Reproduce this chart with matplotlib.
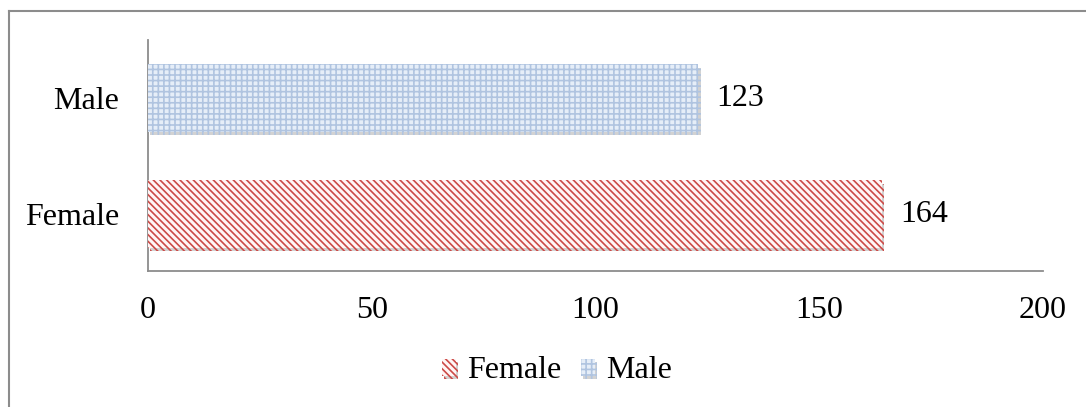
import matplotlib.pyplot as plt
import matplotlib.patheffects as pe
from matplotlib.lines import Line2D

categories = ['Female', 'Male']
counts = [164, 123]
xticks = [0, 50, 100, 150, 200]

plt.rcParams['font.family'] = ['Liberation Serif', 'DejaVu Serif']
plt.rcParams['hatch.linewidth'] = 1.2

W, H = 1086, 407
fs = 23
fig = plt.figure(figsize=(W / 100, H / 100), dpi=100)
ax = fig.add_axes([148 / W, 1 - 271 / H, (1043 - 148) / W, (271 - 40) / H])

faces = ['#fff6f6', '#e6eef8']
edges = ['#cc4a47', '#b0c4e0']
hatches = ['\\' * 5, '+++']

shadow = [pe.SimplePatchShadow(offset=(1.5, -2.5), shadow_rgbFace='#909090', alpha=0.4),
          pe.Normal()]
for i, (cat, val) in enumerate(zip(categories, counts)):
    ax.barh(i, val, height=0.58, color=faces[i], edgecolor=edges[i],
            hatch=hatches[i], linewidth=0, label=cat, zorder=3,
            path_effects=shadow)
    ax.text(val + 4, i, str(val), va='center', ha='left', fontsize=fs)

ax.set_xlim(0, 200)
ax.set_ylim(-0.49, 1.5)
ax.set_xticks(xticks)
ax.set_yticks(range(len(categories)))
ax.set_yticklabels(categories)
ax.tick_params(axis='both', length=0, labelsize=fs)
ax.tick_params(axis='x', pad=18)
ax.tick_params(axis='y', pad=21)
for s in ['top', 'right']:
    ax.spines[s].set_visible(False)
for s in ['left', 'bottom']:
    ax.spines[s].set_color('#8c8c8c')
    ax.spines[s].set_linewidth(1.3)

handles, labels = ax.get_legend_handles_labels()
fig.legend(handles, labels, loc='center', bbox_to_anchor=(557 / W, 1 - 371 / H), ncol=2,
           frameon=False, fontsize=fs, handlelength=0.45, handleheight=0.45,
           handletextpad=0.35, columnspacing=0.6)

# outer chart border (top and left edges visible in the reference)
x0 = 8.5 / W
y1 = 1 - 10.5 / H
fig.add_artist(Line2D([x0, 1], [y1, y1], transform=fig.transFigure, color='#8c8c8c', lw=1.5))
fig.add_artist(Line2D([x0, x0], [0, y1], transform=fig.transFigure, color='#8c8c8c', lw=1.5))

fig.savefig('out.png', dpi=100)
